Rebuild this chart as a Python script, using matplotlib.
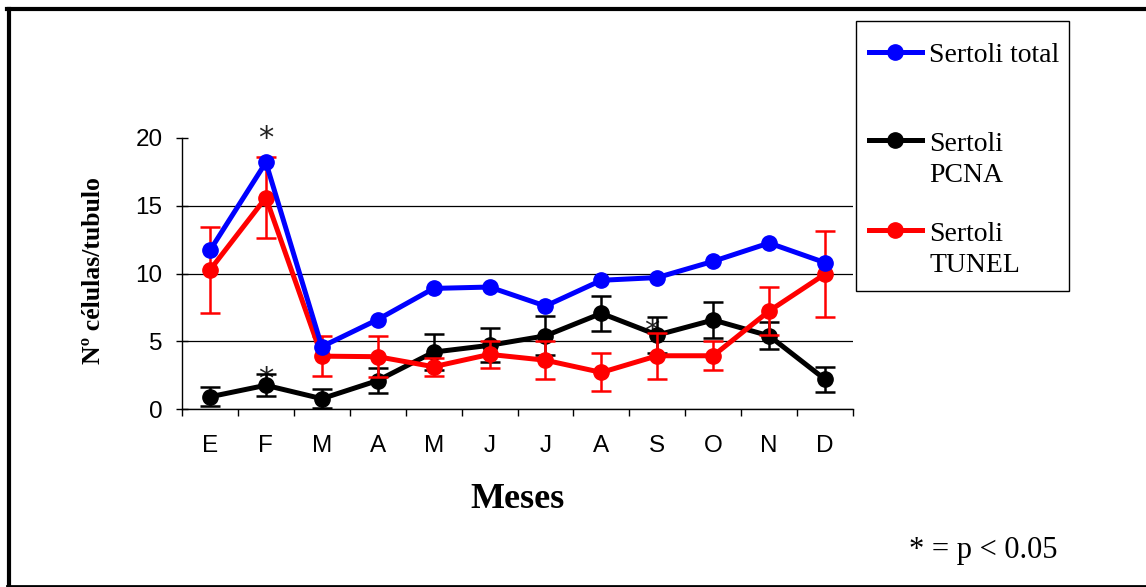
import matplotlib
matplotlib.use('Agg')
import matplotlib.pyplot as plt
from matplotlib.lines import Line2D
from matplotlib.patches import Rectangle
import numpy as np

# monthly means
meses = ['E', 'F', 'M', 'A', 'M', 'J', 'J', 'A', 'S', 'O', 'N', 'D']
sertoli_total = [11.7, 18.2, 4.6, 6.6, 8.9, 9.0, 7.6, 9.5, 9.7, 10.9, 12.25, 10.8]
sertoli_pcna = [0.9, 1.75, 0.76, 2.1, 4.2, 4.7, 5.4, 7.06, 5.46, 6.57, 5.4, 2.19]
pcna_err = [0.7, 0.8, 0.7, 0.95, 1.3, 1.25, 1.45, 1.3, 1.3, 1.3, 1.0, 0.9]
sertoli_tunel = [10.26, 15.6, 3.9, 3.86, 3.12, 4.03, 3.6, 2.7, 3.93, 3.93, 7.23, 9.96]
tunel_err = [3.2, 3.0, 1.5, 1.5, 0.65, 1.0, 1.4, 1.4, 1.7, 1.06, 1.8, 3.2]

# significance marks (month index, height)
sig_x = [1, 1, 7.9]
sig_y = [19.95, 2.2, 5.75]

legend_rows = [['Sertoli total'], ['Sertoli', 'PCNA'], ['Sertoli', 'TUNEL']]
legend_colors = ['#0000ff', 'black', '#ff0000']

W, H = 1146, 587
fig = plt.figure(figsize=(W / 100, H / 100), dpi=100)
ax = fig.add_axes([182 / W, 1 - 409 / H, (853 - 182) / W, (409 - 138) / H])

x = np.arange(len(meses))
lw = 3.6
ms = 11

ax.errorbar(x, sertoli_pcna, yerr=pcna_err, color='black', lw=lw, marker='o', ms=ms,
            elinewidth=1.8, capsize=7.5, capthick=1.8, zorder=3, clip_on=False)
ax.errorbar(x, sertoli_tunel, yerr=tunel_err, color='#ff0000', lw=lw, marker='o', ms=ms,
            elinewidth=1.8, capsize=7.5, capthick=1.8, zorder=4, clip_on=False)
ax.plot(x, sertoli_total, color='#0000ff', lw=lw, marker='o', ms=ms, zorder=5, clip_on=False)

for sx, sy in zip(sig_x, sig_y):
    ax.text(sx, sy, '*', ha='center', va='center', fontsize=22, family='DejaVu Sans',
            color='#222222', zorder=2, clip_on=False)

ax.set_xlim(-0.5, len(meses) - 0.5)
ax.set_ylim(0, 20)
ax.set_yticks([0, 5, 10, 15, 20])
ax.set_xticks(x)
ax.set_xticklabels(meses)
ax.set_xticks(np.arange(len(meses) + 1) - 0.5, minor=True)
ax.tick_params(axis='x', which='major', length=0, pad=19, labelsize=17.5)
ax.tick_params(axis='x', which='minor', direction='out', length=5, width=1)
ax.tick_params(axis='y', direction='inout', length=8, width=1, pad=10, labelsize=17.5)
for lab in ax.get_xticklabels() + ax.get_yticklabels():
    lab.set_family('Liberation Sans')

ax.yaxis.grid(True, color='black', lw=0.9)
ax.get_ygridlines()[-1].set_visible(False)
ax.set_axisbelow(True)
for s in ['top', 'right']:
    ax.spines[s].set_visible(False)
for s in ['left', 'bottom']:
    ax.spines[s].set_linewidth(1)

fig.text(94 / W, 1 - 271 / H, 'Nº células/tubulo', rotation=90, ha='center', va='center',
         fontsize=18.5, fontweight='bold', family='Liberation Serif')
fig.text(517.5 / W, 1 - 500 / H, 'Meses', ha='center', va='center',
         fontsize=26, fontweight='bold', family='Liberation Serif')
fig.text(909 / W, 1 - 558 / H, '* = p < 0.05', ha='left', va='baseline',
         fontsize=22, family='Liberation Serif')

# legend box, drawn by hand so the marker sits on the first text line
fig.patches.append(Rectangle((856 / W, 1 - 291 / H), 213 / W, 270 / H, transform=fig.transFigure,
                             facecolor='white', edgecolor='black', lw=1))
handle_y = [52, 140, 230]
text_base = [[62], [151, 182], [241, 272]]
for rows, col, hy, bases in zip(legend_rows, legend_colors, handle_y, text_base):
    fig.lines.append(Line2D([869 / W, 922 / W], [1 - hy / H, 1 - hy / H], transform=fig.transFigure,
                            color=col, lw=lw))
    fig.lines.append(Line2D([895 / W], [1 - hy / H], transform=fig.transFigure, color=col,
                            marker='o', ms=11))
    for txt, by in zip(rows, bases):
        fig.text(929 / W, 1 - by / H, txt, ha='left', va='baseline', fontsize=20,
                 family='Liberation Serif')

# outer frame (left, top, bottom)
fig.lines.append(Line2D([9 / W, 9 / W], [1 - 9 / H, 1 - 586 / H], transform=fig.transFigure,
                        color='black', lw=3))
fig.lines.append(Line2D([7 / W, 1], [1 - 9 / H, 1 - 9 / H], transform=fig.transFigure,
                        color='black', lw=3))
fig.lines.append(Line2D([7 / W, 1], [1 - 586 / H, 1 - 586 / H], transform=fig.transFigure,
                        color='black', lw=2))

fig.savefig('out.png', dpi=100)
